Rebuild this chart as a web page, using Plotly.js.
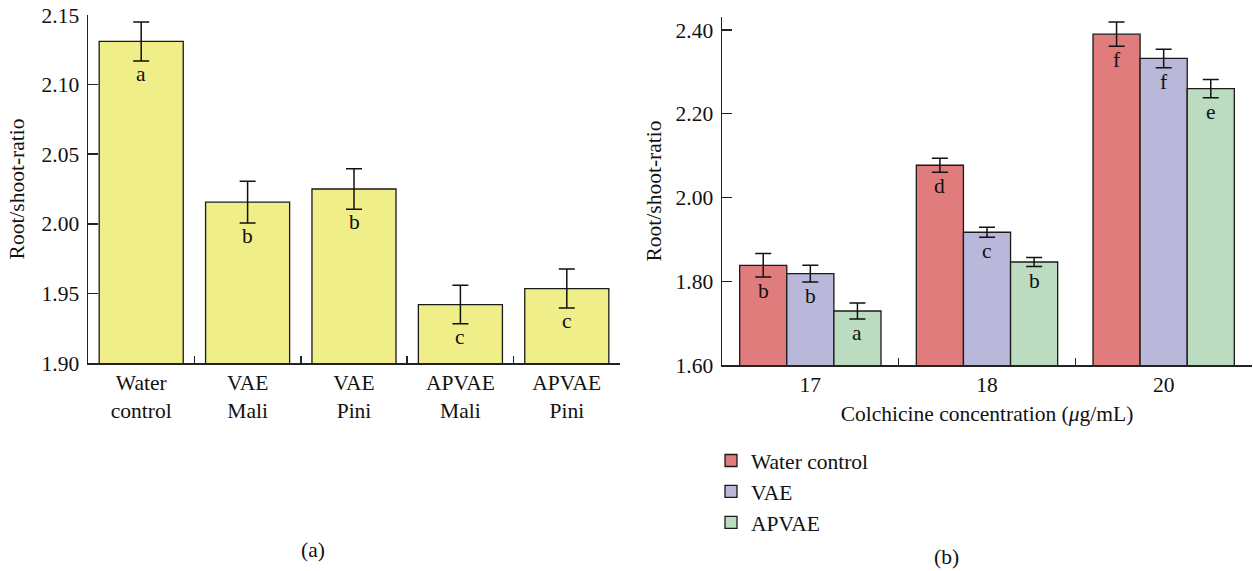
<!DOCTYPE html>
<html>
<head>
<meta charset="utf-8">
<script src="https://cdn.plot.ly/plotly-3.0.1.min.js"></script>
<style>html,body{margin:0;padding:0;background:#fff;}#chart{width:1253px;height:571px;}</style>
</head>
<body>
<div id="chart"></div>
<script>
// ---- Panel (a) data ----
const treatmentsA = ["Water control", "VAE Mali", "VAE Pini", "APVAE Mali", "APVAE Pini"];
const treatmentLabelsA = ["Water<br>control", "VAE<br>Mali", "VAE<br>Pini", "APVAE<br>Mali", "APVAE<br>Pini"];
const ratioA = [2.131, 2.0155, 2.025, 1.942, 1.9535];
const errA = [0.014, 0.015, 0.0146, 0.0138, 0.014];
const lettersA = ["a", "b", "b", "c", "c"];

// ---- Panel (b) data ----
const concentrations = ["17", "18", "20"];
const seriesNames = ["Water control", "VAE", "APVAE"];
const waterB = [1.838, 2.077, 2.390];
const vaeB = [1.818, 1.917, 2.332];
const apvaeB = [1.729, 1.846, 2.260];
const waterErr = [0.028, 0.017, 0.029];
const vaeErr = [0.02, 0.012, 0.022];
const apvaeErr = [0.019, 0.011, 0.022];
const waterLetters = ["b", "d", "f"];
const vaeLetters = ["b", "c", "f"];
const apvaeLetters = ["a", "b", "e"];

const FONT = "Liberation Serif, Times New Roman, serif";
const FS = 21.5;
const seriesColors = ["#e07c7c", "#b9b8da", "#bcdcc1"];
const valuesB = [waterB, vaeB, apvaeB];
const errsB = [waterErr, vaeErr, apvaeErr];
const lettersB = [waterLetters, vaeLetters, apvaeLetters];

const traces = [];
traces.push({
  type: "bar", x: treatmentsA, y: ratioA, xaxis: "x", yaxis: "y",
  width: 0.79, showlegend: false,
  marker: {color: "#f0ee88", line: {color: "#1a1a1a", width: 1.3}},
  error_y: {type: "data", array: errA, visible: true, color: "#111", thickness: 1.5, width: 8},
  hoverinfo: "x+y"
});
for (let s = 0; s < 3; s++) {
  traces.push({
    type: "bar", name: seriesNames[s], x: concentrations, y: valuesB[s], xaxis: "x2", yaxis: "y2",
    marker: {color: seriesColors[s], line: {color: "#1a1a1a", width: 1.3}},
    error_y: {type: "data", array: errsB[s], visible: true, color: "#111", thickness: 1.5, width: 8}
  });
}

const annotations = [];
treatmentsA.forEach((c, i) => {
  annotations.push({xref: "x", yref: "y", x: c, y: ratioA[i] - errA[i], text: lettersA[i],
    showarrow: false, yanchor: "top", yshift: 1, font: {family: FONT, size: FS, color: "#111"}});
});
const offsets = [-0.2667, 0, 0.2667];
for (let s = 0; s < 3; s++) {
  concentrations.forEach((c, i) => {
    annotations.push({xref: "x2", yref: "y2", x: i + offsets[s], y: valuesB[s][i] - errsB[s][i],
      text: lettersB[s][i], showarrow: false, yanchor: "top", yshift: 0,
      font: {family: FONT, size: FS, color: "#111"}});
  });
}
annotations.push({xref: "paper", yref: "paper", x: 313 / 1253, y: 21 / 571, text: "(a)", showarrow: false,
  xanchor: "center", yanchor: "middle", font: {family: FONT, size: FS, color: "#111"}});
annotations.push({xref: "paper", yref: "paper", x: 946 / 1253, y: 14 / 571, text: "(b)", showarrow: false,
  xanchor: "center", yanchor: "middle", font: {family: FONT, size: FS, color: "#111"}});

const axisCommon = {
  showline: true, linecolor: "#222", linewidth: 1.5, showgrid: false, zeroline: false,
  tickfont: {family: FONT, size: FS, color: "#111"}, tickcolor: "#222", tickwidth: 1.5
};

const layout = {
  width: 1253, height: 571,
  margin: {l: 0, r: 0, t: 0, b: 0},
  paper_bgcolor: "#fff", plot_bgcolor: "#fff",
  font: {family: FONT, size: FS, color: "#111"},
  barmode: "group", bargap: 0.2, bargroupgap: 0,
  xaxis: Object.assign({}, axisCommon, {
    domain: [88 / 1253, 620 / 1253], anchor: "y", type: "category",
    tickvals: treatmentsA, ticktext: treatmentLabelsA,
    tickson: "boundaries", ticks: "inside", ticklen: 7, range: [-0.5, 4.5]
  }),
  yaxis: Object.assign({}, axisCommon, {
    domain: [(571 - 363) / 571, (571 - 15) / 571], anchor: "x",
    range: [1.90, 2.15], dtick: 0.05, tick0: 1.9, tickformat: ".2f",
    ticks: "inside", ticklen: 10, ticklabelstandoff: 3,
    title: {text: "Root/shoot-ratio", font: {family: FONT, size: FS, color: "#111"}, standoff: 11}
  }),
  xaxis2: Object.assign({}, axisCommon, {
    domain: [722 / 1253, 1252 / 1253], anchor: "y2", type: "category",
    tickson: "boundaries", ticks: "inside", ticklen: 7, range: [-0.5, 2.5],
    title: {text: "Colchicine concentration (<i>μ</i>g/mL)", font: {family: FONT, size: FS, color: "#111"}, standoff: 9}
  }),
  yaxis2: Object.assign({}, axisCommon, {
    domain: [(571 - 365) / 571, (571 - 17) / 571], anchor: "x2",
    range: [1.60, 2.431], dtick: 0.2, tick0: 1.6, tickformat: ".2f",
    ticks: "inside", ticklen: 10, ticklabelstandoff: 3,
    title: {text: "Root/shoot-ratio", font: {family: FONT, size: FS, color: "#111"}, standoff: 8}
  }),
  showlegend: true,
  legend: {x: 711 / 1253, y: (571 - 440) / 571, xanchor: "left", yanchor: "top",
    font: {family: FONT, size: FS, color: "#111"}, bgcolor: "rgba(0,0,0,0)", traceorder: "normal"},
  annotations: annotations
};

Plotly.newPlot("chart", traces, layout, {displayModeBar: false, staticPlot: true});
</script>
</body>
</html>
